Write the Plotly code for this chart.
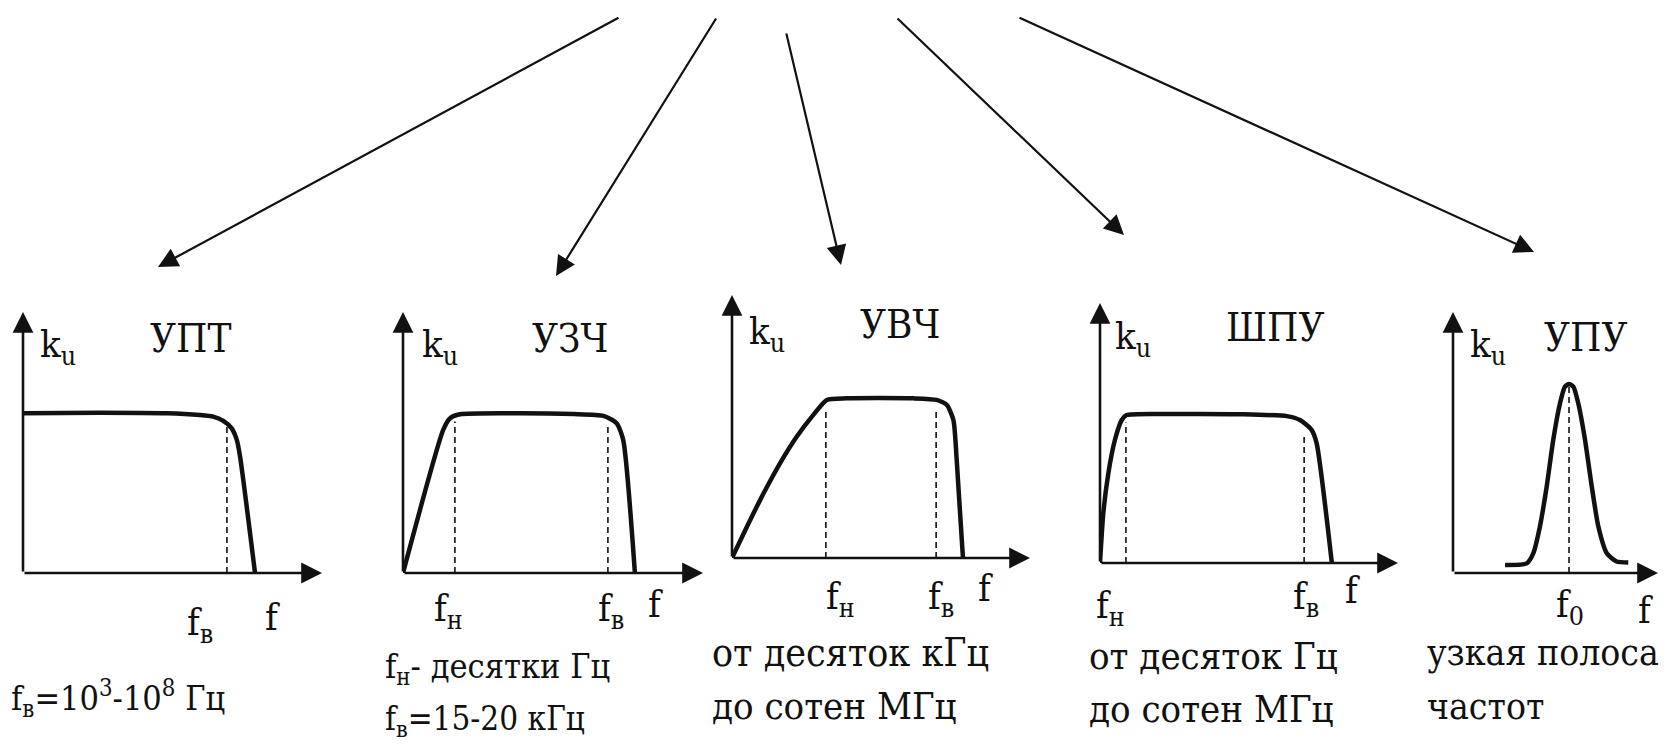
import plotly.graph_objects as go

W, H = 1667, 746
FONT = "DejaVu Serif Condensed"
INK = "#111111"

# ---------------- data: normalized frequency f (fraction of f-axis) and gain k ----------------
upt_f = [0.0, 0.258, 0.48, 0.592, 0.636, 0.670, 0.698, 0.715, 0.726, 0.776]
upt_k = [0.612, 0.614, 0.612, 0.605, 0.599, 0.583, 0.554, 0.510, 0.446, 0.0]
upt_marks = [0.682]
upt_marks_k = [0.565]

uzch_f = [0.0, 0.134, 0.157, 0.19, 0.346, 0.568, 0.668, 0.712, 0.734, 0.773]
uzch_k = [0.0, 0.548, 0.593, 0.608, 0.612, 0.609, 0.602, 0.574, 0.510, 0.0]
uzch_marks = [0.173, 0.683]
uzch_marks_k = [0.58, 0.56]

uvch_f = [0.0, 0.05, 0.106, 0.161, 0.217, 0.273, 0.318, 0.385, 0.609, 0.687, 0.721, 0.743, 0.754, 0.775]
uvch_k = [0.0, 0.119, 0.246, 0.360, 0.461, 0.544, 0.601, 0.607, 0.607, 0.601, 0.582, 0.525, 0.373, 0.0]
uvch_marks = [0.315, 0.685]
uvch_marks_k = [0.56, 0.56]

shpu_f = [0.0, 0.011, 0.028, 0.050, 0.073, 0.089, 0.246, 0.470, 0.627, 0.671, 0.710, 0.727, 0.778]
shpu_k = [0.0, 0.191, 0.345, 0.473, 0.550, 0.569, 0.573, 0.572, 0.565, 0.550, 0.512, 0.460, 0.0]
shpu_marks = [0.087, 0.685]
shpu_marks_k = [0.54, 0.50]

upu_f = [0.254, 0.360, 0.392, 0.424, 0.457, 0.489, 0.522, 0.546, 0.566, 0.587, 0.611, 0.644, 0.677, 0.709, 0.750, 0.798, 0.855]
upu_k = [0.031, 0.037, 0.076, 0.178, 0.331, 0.510, 0.650, 0.714, 0.724, 0.714, 0.650, 0.510, 0.331, 0.178, 0.076, 0.044, 0.040]
upu_marks = [0.566]
upu_marks_k = [0.724]

titles = ["УПТ", "УЗЧ", "УВЧ", "ШПУ", "УПУ"]
ylabel = "k<sub>u</sub>"
freq_labels = [
    ["f<sub>в</sub>", "f"],
    ["f<sub>н</sub>", "f<sub>в</sub>", "f"],
    ["f<sub>н</sub>", "f<sub>в</sub>", "f"],
    ["f<sub>н</sub>", "f<sub>в</sub>", "f"],
    ["f<sub>0</sub>", "f"],
]
notes = [
    ["f<sub>в</sub>=10<sup>3</sup>-10<sup>8</sup> Гц"],
    ["f<sub>н</sub>- десятки Гц", "f<sub>в</sub>=15-20 кГц"],
    ["от десяток кГц", "до сотен МГц"],
    ["от десяток Гц", "до сотен МГц"],
    ["узкая полоса", "частот"],
]

curves = [(upt_f, upt_k), (uzch_f, uzch_k), (uvch_f, uvch_k), (shpu_f, shpu_k), (upu_f, upu_k)]
marks = [(upt_marks, upt_marks_k), (uzch_marks, uzch_marks_k), (uvch_marks, uvch_marks_k),
         (shpu_marks, shpu_marks_k), (upu_marks, upu_marks_k)]

# ---------------- layout geometry (pixels) ----------------
panels = [
    dict(ox=23, oy=573, xt=322, yt=312),
    dict(ox=403, oy=573, xt=703, yt=312),
    dict(ox=732, oy=558, xt=1030, yt=295),
    dict(ox=1100, oy=563, xt=1398, yt=303),
    dict(ox=1453, oy=573, xt=1658, yt=312),
]
ylabel_pos = [(38, 346), (420, 346), (747, 333), (1113, 338), (1468, 346)]
title_pos = [(190, 338), (570, 338), (900, 324), (1275, 327), (1585, 337)]
freq_pos = [
    [(200, 624), (272, 617)],
    [(448, 610), (611, 610), (655, 604)],
    [(840, 598), (941, 598), (985, 588)],
    [(1110, 607), (1306, 598), (1352, 590)],
    [(1570, 606), (1645, 610)],
]
note_pos = [
    [(9, 698)],
    [(383, 668), (383, 720)],
    [(710, 652), (710, 706)],
    [(1087, 656), (1087, 709)],
    [(1425, 652), (1425, 706)],
]
note_size = [
    [34],
    [34, 33],
    [39, 38],
    [38, 38],
    [37, 37],
]
top_arrows = [
    ((620, 17), (158, 267)),
    ((717, 17), (556, 276)),
    ((786, 32), (841, 265)),
    ((896, 17), (1124, 235)),
    ((1018, 17), (1534, 252)),
]

fig = go.Figure()
annotations = []

def px(x):
    return x / W

def py(y):
    return 1 - y / H

for i, p in enumerate(panels):
    n = "" if i == 0 else str(i + 1)
    xa, ya = "x" + n, "y" + n
    fig.update_layout(**{
        "xaxis" + n: dict(domain=[px(p["ox"]), px(p["xt"])], range=[0, 1], visible=False, fixedrange=True),
        "yaxis" + n: dict(domain=[py(p["oy"]), py(p["yt"])], range=[0, 1], visible=False, fixedrange=True),
    })
    cf, ck = curves[i]
    fig.add_trace(go.Scatter(x=cf, y=ck, mode="lines", xaxis=xa, yaxis=ya,
                             line=dict(color=INK, width=4.5, shape="spline", smoothing=0.6),
                             hoverinfo="skip", showlegend=False, cliponaxis=False))
    mf, mk = marks[i]
    for f, k in zip(mf, mk):
        fig.add_trace(go.Scatter(x=[f, f], y=[0, k], mode="lines", xaxis=xa, yaxis=ya,
                                 line=dict(color=INK, width=1.6, dash="6px,4px"),
                                 hoverinfo="skip", showlegend=False, cliponaxis=False))
    for (hx, hy) in [(1, 0), (0, 1)]:
        annotations.append(dict(x=hx, y=hy, ax=0, ay=0, xref=xa, yref=ya, axref=xa, ayref=ya,
                                text="", showarrow=True, arrowhead=2, arrowsize=1.6,
                                arrowwidth=2.6, arrowcolor=INK, standoff=0))
    annotations.append(dict(x=px(ylabel_pos[i][0]), y=py(ylabel_pos[i][1]), xref="paper", yref="paper",
                            text=ylabel, showarrow=False, xanchor="left", yanchor="middle",
                            font=dict(family=FONT, size=38, color=INK)))
    annotations.append(dict(x=px(title_pos[i][0]), y=py(title_pos[i][1]), xref="paper", yref="paper",
                            text=titles[i], showarrow=False, xanchor="center", yanchor="middle",
                            font=dict(family=FONT, size=40, color=INK)))
    for t, (lx, ly) in zip(freq_labels[i], freq_pos[i]):
        annotations.append(dict(x=px(lx), y=py(ly), xref="paper", yref="paper", text=t,
                                showarrow=False, xanchor="center", yanchor="middle",
                                font=dict(family=FONT, size=38, color=INK)))
    for t, (lx, ly), sz in zip(notes[i], note_pos[i], note_size[i]):
        annotations.append(dict(x=px(lx), y=py(ly), xref="paper", yref="paper", text=t,
                                showarrow=False, xanchor="left", yanchor="middle",
                                font=dict(family=FONT, size=sz, color=INK)))

for (sx, sy), (tx, ty) in top_arrows:
    annotations.append(dict(x=px(tx), y=py(ty), xref="paper", yref="paper",
                            ax=sx - tx, ay=sy - ty, text="", showarrow=True,
                            arrowhead=2, arrowsize=1.8, arrowwidth=2.2, arrowcolor=INK, standoff=0))

fig.update_layout(width=W, height=H, margin=dict(l=0, r=0, t=0, b=0),
                  paper_bgcolor="white", plot_bgcolor="white",
                  font=dict(family=FONT, color=INK),
                  annotations=annotations, showlegend=False)

fig.write_html("out.html", config={"displayModeBar": False},
               post_script="document.body.style.margin='0';document.body.style.overflow='hidden';")
